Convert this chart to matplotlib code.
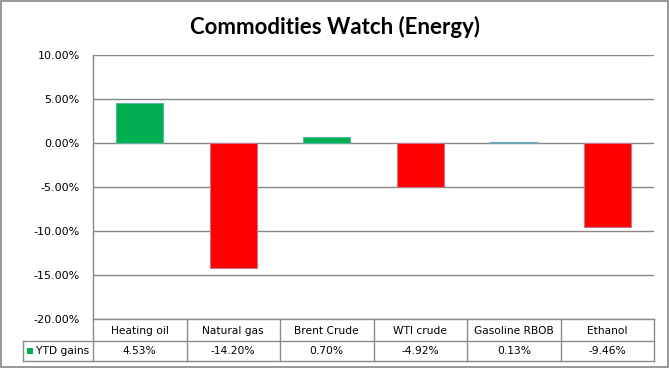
import matplotlib
matplotlib.use("Agg")
import matplotlib.pyplot as plt
from matplotlib.patches import Rectangle

# data
categories = ["Heating oil", "Natural gas", "Brent Crude", "WTI crude", "Gasoline RBOB", "Ethanol"]
ytd_gains = [4.53, -14.20, 0.70, -4.92, 0.13, -9.46]
series_name = "YTD gains"
y_ticks = [10, 5, 0, -5, -10, -15, -20]

W, H = 669, 368
grid_col = "#868686"
green = "#00B050"
red = "#FF0000"

fig = plt.figure(figsize=(W / 100, H / 100), dpi=100)

# plot area in pixel coords
left, right, top, bottom = 93, 654, 55.3, 319.3
ax = fig.add_axes([left / W, 1 - bottom / H, (right - left) / W, (bottom - top) / H])

x = list(range(len(categories)))
colors = [green if v >= 0 else red for v in ytd_gains]
edges = []
for v in ytd_gains:
    if v >= 0:
        edges.append("#6aa8b8" if abs(v) < 0.3 else "#5fb3a8")
    else:
        edges.append("#c8748c")
ax.bar(x, ytd_gains, width=0.5, color=colors, edgecolor=edges, linewidth=0.8, zorder=3)

ax.set_xlim(-0.5, len(categories) - 0.5)
ax.set_ylim(min(y_ticks), max(y_ticks))
ax.set_yticks(y_ticks)
ax.set_yticklabels([f"{t:.2f}%" for t in y_ticks], fontsize=8, color="#000000")
ax.tick_params(axis="y", length=0, pad=9.5)
ax.set_xticks([])
for t in y_ticks:
    ax.axhline(t, color=grid_col, linewidth=1.0, zorder=1)
for s in ["top", "right", "bottom"]:
    ax.spines[s].set_visible(False)
ax.spines["left"].set_color(grid_col)
ax.spines["left"].set_linewidth(1.0)

# title
fig.text(0.5, 1 - 27 / H, "Commodities Watch (Energy)", ha="center", va="center",
         fontsize=16, fontweight="bold", family=["Lato", "DejaVu Sans"])

# data table drawn in pixel coordinates
tab = fig.add_axes([0, 0, 1, 1], zorder=0)
tab.set_xlim(0, W)
tab.set_ylim(H, 0)
tab.axis("off")

row1, row2, row3 = 319.3, 341, 361
legend_left = 22.5
ncol = len(categories)
colw = (right - left) / ncol

lc = "#8c8c8c"
# horizontal lines
tab.plot([left, right], [row1, row1], color=lc, lw=1.0)
tab.plot([legend_left, right], [row2, row2], color=lc, lw=1.0)
tab.plot([legend_left, right], [row3, row3], color=lc, lw=1.0)
# vertical lines
tab.plot([left, left], [row1, row3], color=lc, lw=1.0)
tab.plot([legend_left, legend_left], [row2, row3], color=lc, lw=1.0)
for i in range(1, ncol + 1):
    xx = left + i * colw
    tab.plot([xx, xx], [row1, row3], color=lc, lw=1.0)

for i, (c, v) in enumerate(zip(categories, ytd_gains)):
    cx = left + (i + 0.5) * colw
    tab.text(cx, (row1 + row2) / 2 + 1, c, ha="center", va="center", fontsize=7.7)
    tab.text(cx, (row2 + row3) / 2 + 0.5, f"{v:.2f}%", ha="center", va="center", fontsize=7.7)

tab.add_patch(Rectangle((27, 348), 6, 6, facecolor=green, edgecolor="none"))
tab.text(35.5, (row2 + row3) / 2 + 0.5, series_name, ha="left", va="center", fontsize=7.7)

# outer chart border
tab.add_patch(Rectangle((0.5, 0.5), W - 2, H - 2, facecolor="none", edgecolor="#868686", lw=1.2))

fig.savefig("out.png", dpi=100)
